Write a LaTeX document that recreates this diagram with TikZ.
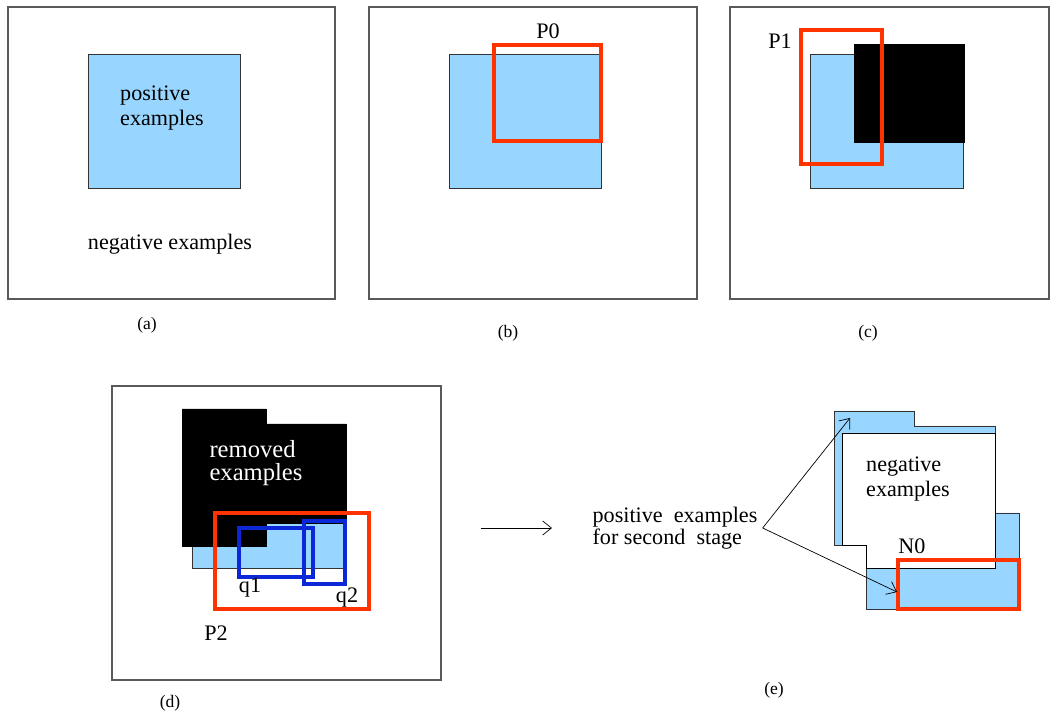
\documentclass[tikz,border=0pt]{standalone}
\usepackage{fontspec}
\setmainfont{Liberation Serif}
\usetikzlibrary{positioning,arrows.meta}
\definecolor{posblue}{RGB}{153,214,255}
\definecolor{rulered}{RGB}{255,51,0}
\definecolor{ruleblue}{RGB}{10,40,215}
\tikzset{
    frame/.style={
      draw=black!65, line width=0.6pt,
    },
    posset/.style={
      fill=posblue, draw=black!80, line width=0.5pt,
    },
    removedset/.style={
      fill=black, draw=black, line width=0.5pt,
    },
    ruleP/.style={
      draw=rulered, line width=2pt,
    },
    ruleQ/.style={
      draw=ruleblue, line width=1.9pt,
    },
    tag/.style={
      font=\fontsize{12.6}{14.2}\selectfont,
      inner sep=0pt, align=left,
    },
    caption/.style={
      font=\fontsize{10}{12}\selectfont,
      inner sep=0pt,
    },
}

\begin{document}
\begin{tikzpicture}[x=0.02cm,y=-0.02cm,->,>={Straight Barb[length=5pt,width=8pt]}]

    \useasboundingbox (0,0) rectangle (1051,715);

    % (a) the two classes
    \draw[frame,-] (8,7) rectangle (335,299);
    \fill[posset] (88,54) rectangle (240,188);
    \node[tag] (posA) at (162,108) {positive\\examples};
    \node[tag] (negA) at (170,244) {negative examples};
    \node[caption] (capA) at (147,325) {(a)};

    % (b) first rule P0
    \draw[frame,-] (369,7) rectangle (697,299);
    \fill[posset] (449,54) rectangle (601,188);
    \draw[ruleP,-] (494,45) rectangle (601,141);
    \node[tag] (P0) at (548,31) {P0};
    \node[caption] (capB) at (508,333) {(b)};

    % (c) covered part removed, rule P1
    \draw[frame,-] (730,7) -- (1049,7) -- (1049,299) -- (730,299) -- cycle;
    \fill[posset] (810,54) rectangle (963,188);
    \fill[removedset] (854,44) rectangle (964,142);
    \draw[ruleP,-] (801,30) rectangle (882,164);
    \node[tag] (P1) at (780,41) {P1};
    \node[caption] (capC) at (868,333) {(c)};

    % (d) rule P2 with its sub-rules q1, q2
    \draw[frame,-] (112,386) rectangle (441,680);
    \fill[posset] (192,424) rectangle (346,568);
    \fill[removedset] (182,409) -- (266,409) -- (266,424) -- (346,424)
      -- (346,523) -- (266,523) -- (266,546) -- (182,546) -- cycle;
    \node[tag, text=white, font=\fontsize{14}{13.5}\selectfont]
      (removed) at (256,463) {removed\\examples};
    \draw[ruleP,-] (215,513) rectangle (369,609);
    \draw[ruleQ,-] (239,528) rectangle (313,577);
    \draw[ruleQ,-] (304,521) rectangle (345,584);
    \node[tag] (q1) at (250,588) {q1};
    \node[tag] (q2) at (347,598) {q2};
    \node[tag] (P2) at (216,633) {P2};
    \node[caption] (capD) at (170,703) {(d)};

    % step to the second stage
    \coordinate (stepL) at (481,528);
    \coordinate (stepR) at (552,528);
    \draw (stepL) -- (stepR);

    % (e) second stage, negatives become the target
    \fill[posset] (834,411) -- (914,411) -- (914,426) -- (995,426)
      -- (995,513) -- (1019,513) -- (1019,609) -- (866,609)
      -- (866,545) -- (834,545) -- cycle;
    \filldraw[fill=white, draw=black, line width=0.5pt] (842,433) -- (995,433)
      -- (995,568) -- (866,568) -- (866,545) -- (842,545) -- cycle;
    \draw[ruleP,-] (898,560) rectangle (1019,609);
    \node[tag] (negE) at (908,479) {negative\\examples};
    \node[tag] (N0) at (912,546) {N0};
    \node[tag, font=\fontsize{12.6}{12.5}\selectfont, inner xsep=2.8pt]
      (posE) at (675,528) {positive~ examples\\for second~ stage};
    \coordinate (tipUp) at (850,418);
    \coordinate (tipDown) at (897,592);
    \draw (posE.east) -- (tipUp);
    \draw (posE.east) -- (tipDown);
    \node[caption] (capE) at (774,690) {(e)};

\end{tikzpicture}
\end{document}
